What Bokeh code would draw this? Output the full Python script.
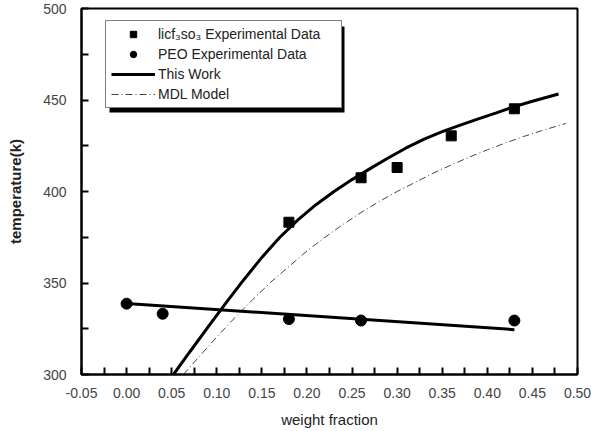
from bokeh.plotting import figure
from bokeh.models import (Legend, LegendItem, BoxAnnotation, Range1d, FixedTicker,
                          PrintfTickFormatter)
from bokeh.embed import file_html
from bokeh.resources import INLINE

# ---- data ----
salt_x = [0.18, 0.26, 0.30, 0.36, 0.43]
salt_t = [383.2, 407.5, 413.1, 430.4, 445.2]

peo_x = [0.0, 0.04, 0.18, 0.26, 0.43]
peo_t = [338.7, 333.2, 330.3, 329.5, 329.5]

peo_fit_x = [0.0, 0.43]
peo_fit_t = [338.8, 324.5]

work_x = [0.052, 0.07, 0.09, 0.11, 0.13, 0.15, 0.17, 0.19, 0.21, 0.23, 0.25,
          0.27, 0.29, 0.31, 0.33, 0.35, 0.37, 0.39, 0.41, 0.43, 0.45, 0.479]
work_t = [300, 312.3, 325.7, 339, 351.8, 364, 375, 384.5, 392.8, 400, 406.5,
          412.5, 418.3, 423.8, 428.6, 432.7, 436.3, 439.7, 443.0, 446.4, 449.3, 453.3]

mdl_x = [0.063, 0.08, 0.10, 0.12, 0.14, 0.16, 0.18, 0.20, 0.22, 0.24, 0.26,
         0.28, 0.30, 0.32, 0.34, 0.36, 0.38, 0.40, 0.42, 0.44, 0.46, 0.487]
mdl_t = [300, 309.5, 320.5, 331, 341, 350.5, 359, 367.5, 375, 382, 388.5,
         394.5, 400, 405, 410, 414.5, 418.8, 422.8, 426.5, 430, 433.2, 437.2]

x_ticks = [-0.05, 0.0, 0.05, 0.10, 0.15, 0.20, 0.25, 0.30, 0.35, 0.40, 0.45, 0.50]
y_ticks = [300, 350, 400, 450, 500]

labels = ["licf\u2083so\u2083 Experimental Data", "PEO Experimental Data",
          "This Work", "MDL Model"]

FONT = "Liberation Sans"

p = figure(width=591, height=431, output_backend="svg", toolbar_location=None,
           x_range=Range1d(-0.05, 0.50), y_range=Range1d(300, 500),
           min_border_left=81, min_border_right=14, min_border_top=8,
           min_border_bottom=57)
p.background_fill_color = "white"
p.border_fill_color = "white"
p.outline_line_color = "black"
p.outline_line_width = 2
p.grid.visible = False

x_minor = [(a + b) / 2 for a, b in zip(x_ticks[:-1], x_ticks[1:])]
y_minor = [(a + b) / 2 for a, b in zip(y_ticks[:-1], y_ticks[1:])]
p.xaxis.ticker = FixedTicker(ticks=x_ticks, minor_ticks=x_minor)
p.yaxis.ticker = FixedTicker(ticks=y_ticks, minor_ticks=y_minor)
p.xaxis.formatter = PrintfTickFormatter(format="%.2f")

for ax in (p.xaxis[0], p.yaxis[0]):
    ax.axis_line_width = 2
    ax.axis_line_color = "black"
    ax.major_tick_in = 7
    ax.major_tick_out = 0
    ax.minor_tick_in = 7
    ax.minor_tick_out = 0
    ax.major_tick_line_width = 2
    ax.minor_tick_line_width = 2
    ax.major_tick_line_color = "black"
    ax.minor_tick_line_color = "black"
    ax.major_label_text_font = FONT
    ax.major_label_text_font_size = "14px"
    ax.major_label_text_color = "#444444"
    ax.axis_label_text_font = FONT
    ax.axis_label_text_color = "#222222"

p.xaxis.axis_label = "weight fraction"
p.xaxis.axis_label_text_font_style = "normal"
p.xaxis.axis_label_text_font_size = "15px"
p.xaxis.major_label_standoff = 13
p.xaxis.axis_label_standoff = 10

p.yaxis.axis_label = "temperature(k)"
p.yaxis.axis_label_text_font_style = "bold"
p.yaxis.axis_label_text_font_size = "15px"
p.yaxis.major_label_standoff = 15
p.yaxis.axis_label_standoff = 16

r_mdl = p.line(mdl_x, mdl_t, line_color="#444444", line_width=1, line_dash="7 3 1 3")
r_peofit = p.line(peo_fit_x, peo_fit_t, line_color="black", line_width=3)
r_work = p.line(work_x, work_t, line_color="black", line_width=3)
r_salt = p.scatter(salt_x, salt_t, marker="square", size=10, fill_color="black",
                   line_color="black")
r_peo = p.scatter(peo_x, peo_t, marker="circle", size=11, fill_color="black",
                  line_color="black")

# legend shadow
shadow = BoxAnnotation(left=28, right=263, bottom=262, top=348,
                       left_units="screen", right_units="screen",
                       top_units="screen", bottom_units="screen",
                       fill_color="black", fill_alpha=1, line_color=None)
p.add_layout(shadow)

legend = Legend(items=[LegendItem(label=labels[0], renderers=[r_salt]),
                       LegendItem(label=labels[1], renderers=[r_peo]),
                       LegendItem(label=labels[2], renderers=[r_work]),
                       LegendItem(label=labels[3], renderers=[r_mdl])],
                location=(24, 266), margin=0, padding=5, spacing=4,
                glyph_width=44, glyph_height=16, label_height=16,
                label_standoff=3, label_width=178,
                label_text_font=FONT, label_text_font_size="14px",
                label_text_color="#222222",
                border_line_color="black", border_line_width=1,
                background_fill_color="white", background_fill_alpha=1)
p.add_layout(legend, "center")

open("out.html", "w").write(file_html(p, INLINE))
